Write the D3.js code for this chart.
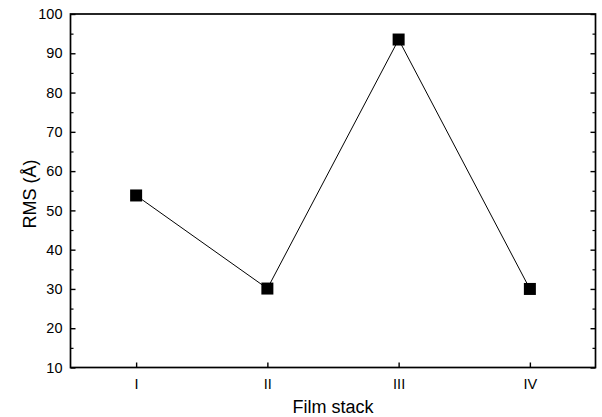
<!DOCTYPE html>
<html><head><meta charset="utf-8">
<script src="https://cdn.jsdelivr.net/npm/d3@7"></script>
<style>
body{margin:0;background:#fff;}
svg{display:block;font-family:"Liberation Sans",Arial,sans-serif;}
</style></head>
<body>
<svg id="c" width="602" height="417"></svg>
<script>
const categories = ["I","II","III","IV"];
const rmsValues = [53.8, 30.1, 93.5, 30.0];
const yTicks = [10,20,30,40,50,60,70,80,90,100];
const yMinorTicks = [15,25,35,45,55,65,75,85,95];

const svg = d3.select("#c");
const L=70.5, R=595.5, T=14, B=367.5;
const x = d3.scaleLinear().domain([0.5, 4.5]).range([L, R]);
const y = d3.scaleLinear().domain([10, 100]).range([B, T]);

const g = svg.append("g");
// frame
g.append("rect").attr("x",L).attr("y",T).attr("width",R-L).attr("height",B-T)
 .attr("fill","none").attr("stroke","#000").attr("stroke-width",1.7);

// left axis
const yAxis = d3.axisLeft(y).tickValues(yTicks).tickSize(-5).tickPadding(8).tickFormat(d3.format("d"));
const ya = g.append("g").attr("transform",`translate(${L},0)`).call(yAxis);
ya.select(".domain").remove();
ya.selectAll("text").attr("font-size",14.5).attr("fill","#000").attr("font-family","Liberation Sans, Arial, sans-serif");
ya.selectAll("line").attr("stroke-width",1.4);
g.append("g").attr("transform",`translate(${L},0)`)
 .call(d3.axisLeft(y).tickValues(yMinorTicks).tickSize(-3).tickFormat(""))
 .call(s=>s.select(".domain").remove()).selectAll("line").attr("stroke-width",1.2);

// right axis ticks
const yr = g.append("g").attr("transform",`translate(${R},0)`)
 .call(d3.axisRight(y).tickValues(yTicks).tickSize(-5).tickFormat(""));
yr.select(".domain").remove();
yr.selectAll("line").attr("stroke-width",1.4);
g.append("g").attr("transform",`translate(${R},0)`)
 .call(d3.axisRight(y).tickValues(yMinorTicks).tickSize(-3).tickFormat(""))
 .call(s=>s.select(".domain").remove()).selectAll("line").attr("stroke-width",1.2);

// bottom axis
const xa = g.append("g").attr("transform",`translate(0,${B})`)
 .call(d3.axisBottom(x).tickValues([1,2,3,4]).tickSize(-5).tickPadding(11).tickFormat((d,i)=>categories[i]));
xa.select(".domain").remove();
xa.selectAll("text").attr("font-size",14.5).attr("fill","#000").attr("font-family","Liberation Sans, Arial, sans-serif");
xa.selectAll("line").attr("stroke-width",1.4);

// line
const data = categories.map((c,i)=>({c, i:i+1, v:rmsValues[i]}));
g.append("path").datum(data)
 .attr("d", d3.line().x(d=>x(d.i)).y(d=>y(d.v)))
 .attr("fill","none").attr("stroke","#000").attr("stroke-width",1);
// markers
g.selectAll("rect.m").data(data).enter().append("rect").attr("class","m")
 .attr("x",d=>x(d.i)-6).attr("y",d=>y(d.v)-6).attr("width",12).attr("height",12)
 .attr("fill","#000");

// axis titles
svg.append("text").attr("x",(L+R)/2).attr("y",413).attr("text-anchor","middle")
 .attr("font-size",18).text("Film stack");
svg.append("text").attr("transform",`translate(36,194) rotate(-90)`).attr("text-anchor","middle")
 .attr("font-size",18).text("RMS (Å)");
</script>
</body></html>
